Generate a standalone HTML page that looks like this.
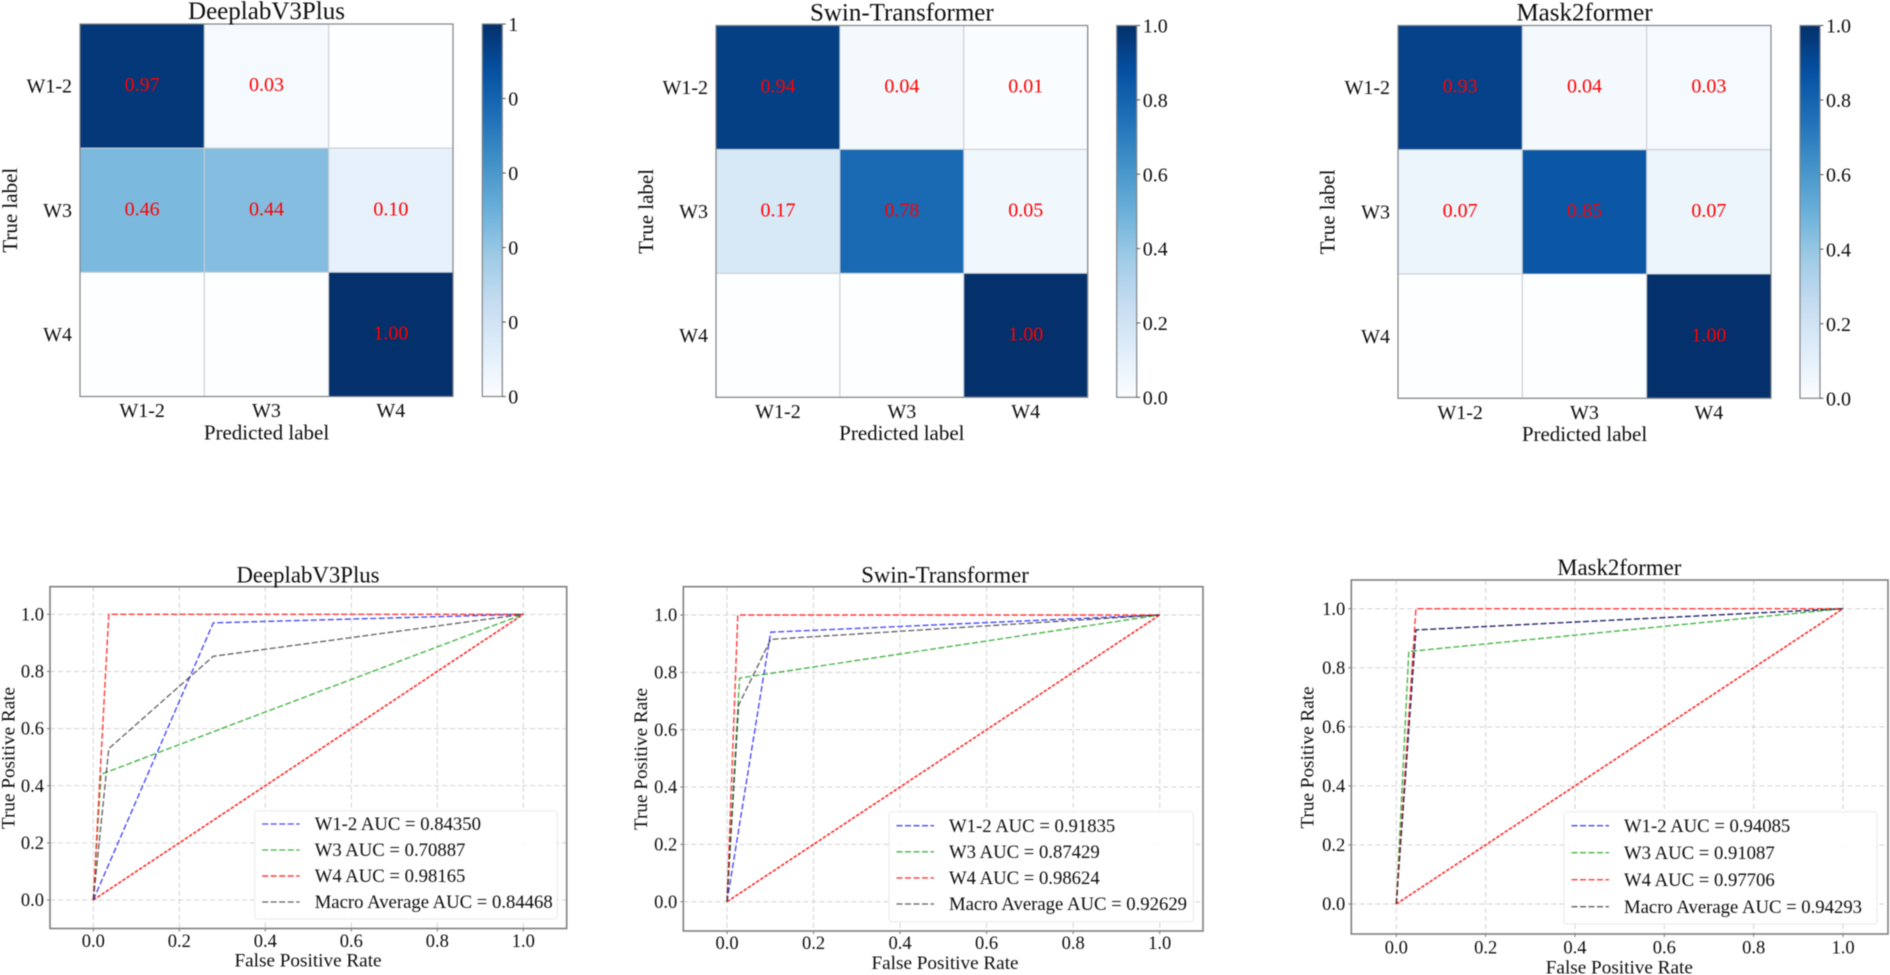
<!DOCTYPE html>
<html lang="en">
<head>
<meta charset="utf-8">
<title>Confusion matrices and ROC curves</title>
<style>
html,body{margin:0;padding:0;background:#fff;width:1890px;height:975px;overflow:hidden}
#figure{display:block;filter:blur(.5px)}
text{font-family:"Liberation Serif","Times New Roman",serif;fill:#0d0d0d}
</style>
</head>
<body>
<svg id="figure" xmlns="http://www.w3.org/2000/svg" width="1890" height="975" viewBox="0 0 1890 975">
<defs>
<linearGradient id="blues" x1="0" y1="1" x2="0" y2="0">
<stop offset="0" stop-color="#fcfeff"/><stop offset=".125" stop-color="#e0eefa"/><stop offset=".25" stop-color="#c6dcf1"/><stop offset=".375" stop-color="#9fcbe6"/><stop offset=".5" stop-color="#6bb0da"/><stop offset=".625" stop-color="#4292c8"/><stop offset=".75" stop-color="#1f70b8"/><stop offset=".875" stop-color="#0651a2"/><stop offset="1" stop-color="#04306b"/>
</linearGradient>
</defs>
</svg>
<script>
// ---------- Confusion matrix data ----------
const cmCategories = ['W1-2', 'W3', 'W4'];
const modelTitles = ['DeeplabV3Plus', 'Swin-Transformer', 'Mask2former'];
const cmDeeplab = [[0.97, 0.03, 0], [0.46, 0.44, 0.10], [0, 0, 1.00]];
const cmSwin = [[0.94, 0.04, 0.01], [0.17, 0.78, 0.05], [0, 0, 1.00]];
const cmMask = [[0.93, 0.04, 0.03], [0.07, 0.85, 0.07], [0, 0, 1.00]];
const colorbarTicks = [0, 0.2, 0.4, 0.6, 0.8, 1];
const colorbarLabelsDeeplab = ['0', '0', '0', '0', '0', '1'];
const colorbarLabelsOther = ['0.0', '0.2', '0.4', '0.6', '0.8', '1.0'];

// ---------- ROC data ----------
const rocTicks = [0, 0.2, 0.4, 0.6, 0.8, 1];
const rocTickLabels = ['0.0', '0.2', '0.4', '0.6', '0.8', '1.0'];
const seriesNames = ['W1-2', 'W3', 'W4', 'Macro Average'];
const diagonalFpr = [0, 1];
const diagonalTpr = [0, 1];

const deeplabW12Fpr = [0, 0.279, 1];
const deeplabW12Tpr = [0, 0.97, 1];
const deeplabW3Fpr = [0, 0.018, 1];
const deeplabW3Tpr = [0, 0.44, 1];
const deeplabW4Fpr = [0, 0.036, 1];
const deeplabW4Tpr = [0, 1, 1];
const deeplabMacroFpr = [0, 0.036, 0.279, 1];
const deeplabMacroTpr = [0, 0.53, 0.853, 1];
const deeplabAuc = ['0.84350', '0.70887', '0.98165', '0.84468'];

const swinW12Fpr = [0, 0.101, 1];
const swinW12Tpr = [0, 0.94, 1];
const swinW3Fpr = [0, 0.029, 1];
const swinW3Tpr = [0, 0.78, 1];
const swinW4Fpr = [0, 0.025, 1];
const swinW4Tpr = [0, 1, 1];
const swinMacroFpr = [0, 0.027, 0.101, 1];
const swinMacroTpr = [0, 0.686, 0.915, 1];
const swinAuc = ['0.91835', '0.87429', '0.98624', '0.92629'];

const maskW12Fpr = [0, 0.044, 1];
const maskW12Tpr = [0, 0.928, 1];
const maskW3Fpr = [0, 0.028, 1];
const maskW3Tpr = [0, 0.855, 1];
const maskW4Fpr = [0, 0.044, 1];
const maskW4Tpr = [0, 1, 1];
const maskMacroFpr = [0, 0.044, 1];
const maskMacroTpr = [0, 0.928, 1];
const maskAuc = ['0.94085', '0.91087', '0.97706', '0.94293'];

// ---------- Rendering ----------
const svg = document.getElementById('figure');
const NS = 'http://www.w3.org/2000/svg';

function make(tag, attrs, parent) {
  const n = document.createElementNS(NS, tag);
  for (const k in attrs) n.setAttribute(k, attrs[k]);
  (parent || svg).appendChild(n);
  return n;
}
function makeText(str, x, yMid, size, anchor, parent, rotate, fill) {
  const a = { 'font-size': size, 'text-anchor': anchor };
  if (fill) a.style = 'fill:' + fill;
  if (rotate) {
    a.transform = 'translate(' + x + ',' + yMid + ') rotate(-90)';
    a.x = 0;
    a.y = 0.33 * size;
  } else {
    a.x = x;
    a.y = yMid + 0.33 * size;
  }
  const t = make('text', a, parent);
  t.textContent = str;
  return t;
}
const blueStops = ['#fcfeff', '#e0eefa', '#c6dcf1', '#9fcbe6', '#6bb0da', '#4292c8', '#1f70b8', '#0651a2', '#04306b'];
function blues(v) {
  const p = Math.max(0, Math.min(1, v)) * (blueStops.length - 1);
  const i = Math.min(blueStops.length - 2, Math.floor(p));
  const f = p - i;
  const parse = h => [1, 3, 5].map(o => parseInt(h.substr(o, 2), 16));
  const a = parse(blueStops[i]), b = parse(blueStops[i + 1]);
  return 'rgb(' + a.map((c, j) => Math.round(c + (b[j] - c) * f)).join(',') + ')';
}

function drawMatrix(cfg) {
  const g = make('g', {});
  
  
  const n = cmCategories.length;
  const cx = i => cfg.left + (cfg.right - cfg.left) * i / n;
  const cy = i => cfg.top + (cfg.bottom - cfg.top) * i / n;
  cfg.values.forEach((row, r) => row.forEach((v, c) => {
    const cell = make('rect', { x: cx(c), y: cy(r), width: cx(c + 1) - cx(c), height: cy(r + 1) - cy(r), fill: blues(v), stroke: '#c9ced3', 'stroke-width': 1 }, g);
    
    
  }));
  cfg.values.forEach((row, r) => row.forEach((v, c) => {
    if (v < 0.005) return;
    const label = makeText(v.toFixed(2), (cx(c) + cx(c + 1)) / 2, (cy(r) + cy(r + 1)) / 2 - 1.5, 20, 'middle', g, false, '#ff0000');
    
    
  }));
  const frame = make('rect', { x: cfg.left, y: cfg.top, width: cfg.right - cfg.left, height: cfg.bottom - cfg.top, fill: 'none', stroke: '#808488', 'stroke-width': 1.2 }, g);
  
  
  cmCategories.forEach((name, i) => {
    const xl = makeText(name, (cx(i) + cx(i + 1)) / 2, cfg.bottom + 14, 20, 'middle', g);
    
    
    const yl = makeText(name, cfg.left - 8, (cy(i) + cy(i + 1)) / 2, 20, 'end', g);
    
    
  });
  const title = makeText(cfg.title, (cfg.left + cfg.right) / 2, cfg.top - 13.5, 25, 'middle', g);
  
  
  const xTitle = makeText('Predicted label', (cfg.left + cfg.right) / 2, cfg.bottom + 36, 21, 'middle', g);
  
  
  const yTitle = makeText('True label', cfg.yTitleX, (cfg.top + cfg.bottom) / 2, 21, 'middle', g, true);
  
  

  const bar = make('rect', { x: cfg.barLeft, y: cfg.top, width: 20, height: cfg.bottom - cfg.top, fill: 'url(#blues)', stroke: '#808488', 'stroke-width': 1.2 }, g);
  
  
  const by = v => cfg.bottom - (cfg.bottom - cfg.top) * v;
  colorbarTicks.forEach((v, i) => {
    const tick = make('line', { x1: cfg.barLeft + 20, x2: cfg.barLeft + 23.5, y1: by(v), y2: by(v), stroke: '#555', 'stroke-width': 1 }, g);
    
    
    const lab = makeText(cfg.barLabels[i], cfg.barLeft + 26, by(v) + 0.5, 20, 'start', g);
    
    
  });
}

const styleFor = [
  { color: '#3232ff', dash: '6 2.5', width: 1.35, op: 0.9 },
  { color: '#30ac30', dash: '6 2.5', width: 1.35, op: 0.9 },
  { color: '#ff3030', dash: '6 2.5', width: 1.4, op: 0.95 },
  { color: '#222222', dash: '6 2.5', width: 1.3, op: 0.72 }
];

function drawRoc(cfg) {
  const g = make('g', {});
  
  
  const xs = v => cfg.x0 + (cfg.x1 - cfg.x0) * v;
  const ys = v => cfg.y0 + (cfg.y1 - cfg.y0) * v;
  const path = (fx, fy) => fx.map((v, i) => (i ? 'L' : 'M') + xs(v).toFixed(2) + ' ' + ys(fy[i]).toFixed(2)).join(' ');

  rocTicks.forEach((v, i) => {
    const gx = make('line', { x1: xs(v), x2: xs(v), y1: cfg.top, y2: cfg.bottom, stroke: '#d2d2d2', 'stroke-width': 1, 'stroke-dasharray': '5 3' }, g);
    
    
    const gy = make('line', { x1: cfg.left, x2: cfg.right, y1: ys(v), y2: ys(v), stroke: '#d2d2d2', 'stroke-width': 1, 'stroke-dasharray': '5 3' }, g);
    
    
    const tx = make('line', { x1: xs(v), x2: xs(v), y1: cfg.bottom, y2: cfg.bottom + 3, stroke: '#777', 'stroke-width': 1 }, g);
    
    
    const ty = make('line', { x1: cfg.left - 3, x2: cfg.left, y1: ys(v), y2: ys(v), stroke: '#777', 'stroke-width': 1 }, g);
    
    
    const lx = makeText(rocTickLabels[i], xs(v), cfg.xTickY, 18.5, 'middle', g);
    
    
    const ly = makeText(rocTickLabels[i], cfg.left - 6, ys(v), 18.5, 'end', g);
    
    
  });

  const diag = make('path', { d: path(diagonalFpr, diagonalTpr), fill: 'none', stroke: '#ff1f1f', 'stroke-width': 1.5, 'stroke-dasharray': '3.5 1.5' }, g);
  
  

  cfg.series.forEach((s, i) => {
    const st = styleFor[i];
    const line = make('path', { d: path(s[0], s[1]), fill: 'none', stroke: st.color, 'stroke-width': st.width, 'stroke-dasharray': st.dash, 'stroke-opacity': st.op }, g);
    
    
  });

  const frame = make('rect', { x: cfg.left, y: cfg.top, width: cfg.right - cfg.left, height: cfg.bottom - cfg.top, fill: 'none', stroke: '#808080', 'stroke-width': 1.6 }, g);
  
  

  const lg = cfg.legend;
  const box = make('rect', { x: lg.left, y: lg.top, width: lg.right - lg.left, height: lg.bottom - lg.top, rx: 3, fill: '#fff', 'fill-opacity': 0.92, stroke: '#e9e9e9', 'stroke-width': 1 }, g);
  
  
  cfg.auc.forEach((a, i) => {
    const st = styleFor[i];
    const rowY = lg.firstRow + lg.rowGap * i;
    const sw = make('line', { x1: lg.left + 7.5, x2: lg.left + 45, y1: rowY, y2: rowY, stroke: st.color, 'stroke-width': st.width, 'stroke-dasharray': st.dash, 'stroke-opacity': st.op }, g);
    
    
    const t = makeText(seriesNames[i] + ' AUC = ' + a, lg.left + 60, rowY, 18.7, 'start', g);
    
    
  });

  const title = makeText(cfg.title, cfg.midX, cfg.titleY, 22.8, 'middle', g);
  
  
  const xTitle = makeText('False Positive Rate', cfg.midX, cfg.xTitleY, 19.2, 'middle', g);
  
  
  const yTitle = makeText('True Positive Rate', cfg.yTitleX, cfg.yTitleMid, 19.2, 'middle', g, true);
  
  
}

drawMatrix({ key: 'deeplab', title: modelTitles[0], values: cmDeeplab, barLabels: colorbarLabelsDeeplab, left: 80, right: 453, top: 24, bottom: 396.5, barLeft: 482.3, yTitleX: 10 });
drawMatrix({ key: 'swin', title: modelTitles[1], values: cmSwin, barLabels: colorbarLabelsOther, left: 716, right: 1087.7, top: 25.5, bottom: 397.3, barLeft: 1116.7, yTitleX: 646 });
drawMatrix({ key: 'mask2former', title: modelTitles[2], values: cmMask, barLabels: colorbarLabelsOther, left: 1398, right: 1771, top: 25.5, bottom: 398.3, barLeft: 1800, yTitleX: 1327.7 });

drawRoc({
  key: 'deeplab', title: modelTitles[0], auc: deeplabAuc,
  series: [[deeplabW12Fpr, deeplabW12Tpr], [deeplabW3Fpr, deeplabW3Tpr], [deeplabW4Fpr, deeplabW4Tpr], [deeplabMacroFpr, deeplabMacroTpr]],
  left: 50, right: 566.7, top: 586.7, bottom: 928.5, x0: 93.3, x1: 523.3, y0: 900, y1: 614.3,
  xTickY: 941, xTitleY: 960, titleY: 575, midX: 308, yTitleX: 8.3, yTitleMid: 758,
  legend: { left: 254.7, right: 557.3, top: 810.7, bottom: 919, firstRow: 824, rowGap: 26 }
});
drawRoc({
  key: 'swin', title: modelTitles[1], auc: swinAuc,
  series: [[swinW12Fpr, swinW12Tpr], [swinW3Fpr, swinW3Tpr], [swinW4Fpr, swinW4Tpr], [swinMacroFpr, swinMacroTpr]],
  left: 683.3, right: 1203, top: 586.7, bottom: 931, x0: 727, x1: 1159.7, y0: 901.7, y1: 615,
  xTickY: 943, xTitleY: 962.7, titleY: 575, midX: 945, yTitleX: 640.7, yTitleMid: 759,
  legend: { left: 889, right: 1193.3, top: 811.7, bottom: 921.7, firstRow: 825.7, rowGap: 26.1 }
});
drawRoc({
  key: 'mask2former', title: modelTitles[2], auc: maskAuc,
  series: [[maskW12Fpr, maskW12Tpr], [maskW3Fpr, maskW3Tpr], [maskW4Fpr, maskW4Tpr], [maskMacroFpr, maskMacroTpr]],
  left: 1351.3, right: 1888, top: 580, bottom: 934, x0: 1396.3, x1: 1843, y0: 904, y1: 608.7,
  xTickY: 947.3, xTitleY: 967.3, titleY: 567.5, midX: 1619.3, yTitleX: 1307.3, yTitleMid: 757.5,
  legend: { left: 1564, right: 1877, top: 811.7, bottom: 924, firstRow: 825.7, rowGap: 27 }
});
</script>
</body>
</html>
